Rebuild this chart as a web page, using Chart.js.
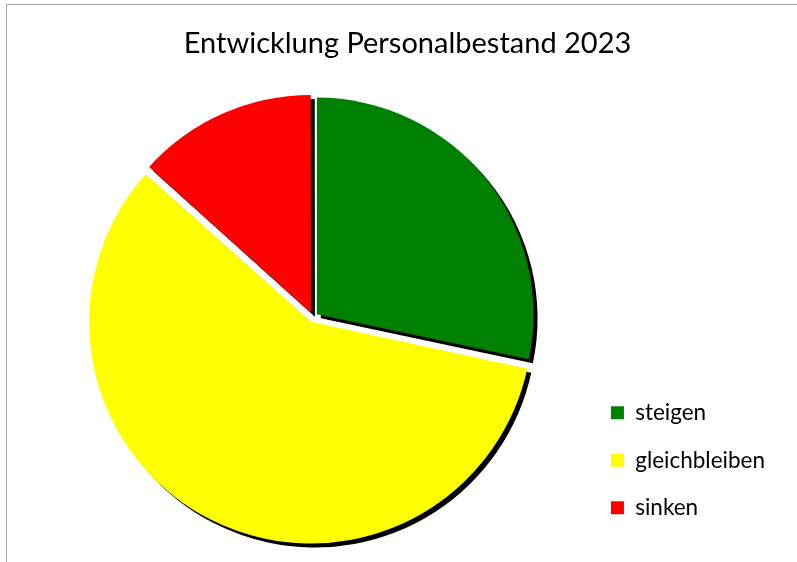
<!DOCTYPE html>
<html>
<head>
<meta charset="utf-8">
<script src="https://cdn.jsdelivr.net/npm/chart.js@4.4.0/dist/chart.umd.min.js"></script>
<style>
    html, body { margin: 0; padding: 0; background: #fff; }
    #wrap { position: relative; width: 797px; height: 562px; overflow: hidden; }
    #frame {
        position: absolute; left: 6px; top: 4px; width: 820px; height: 600px;
        border-left: 1.5px solid #a6a6a6; border-top: 1.5px solid #a6a6a6;
    }
    canvas { position: absolute; left: 0; top: 0; }
</style>
</head>
<body>
<div id="wrap">
    <div id="frame"></div>
    <canvas id="pieChart" width="797" height="562"></canvas>
</div>
<script>
// Values
var titleText = 'Entwicklung Personalbestand 2023';
var categories = ['steigen', 'gleichbleiben', 'sinken'];
var values = [17, 35, 8];
var sliceColors = ['#008000', '#ffff00', '#ff0000'];

// Hard black drop shadow behind the slices (Excel style)
var shadowPlugin = {
    id: 'sliceShadow',
    beforeDatasetDraw: function(chart) {
        var ctx = chart.ctx;
        ctx.save();
        ctx.shadowColor = '#000000';
        ctx.shadowBlur = 0;
        ctx.shadowOffsetX = 4;
        ctx.shadowOffsetY = 4;
    },
    afterDatasetDraw: function(chart) {
        chart.ctx.restore();
    }
};

var fontFamily = 'Lato, "Open Sans", sans-serif';

new Chart(document.getElementById('pieChart'), {
    type: 'pie',
    data: {
        labels: categories,
        datasets: [{
            data: values,
            backgroundColor: sliceColors,
            borderWidth: 0,
            offset: 20
        }]
    },
    options: {
        responsive: false,
        animation: false,
        layout: { padding: { left: 40, right: 22, top: 26, bottom: 18 } },
        plugins: {
            title: {
                display: true,
                text: titleText,
                color: '#000000',
                font: { family: fontFamily, size: 29, weight: 'normal' },
                padding: { top: 0, bottom: 30 }
            },
            legend: {
                position: 'right',
                align: 'end',
                labels: {
                    color: '#000000',
                    font: { family: fontFamily, size: 22.5 },
                    boxWidth: 13,
                    boxHeight: 13,
                    padding: 25
                }
            },
            tooltip: { enabled: false }
        }
    },
    plugins: [shadowPlugin]
});
</script>
</body>
</html>
